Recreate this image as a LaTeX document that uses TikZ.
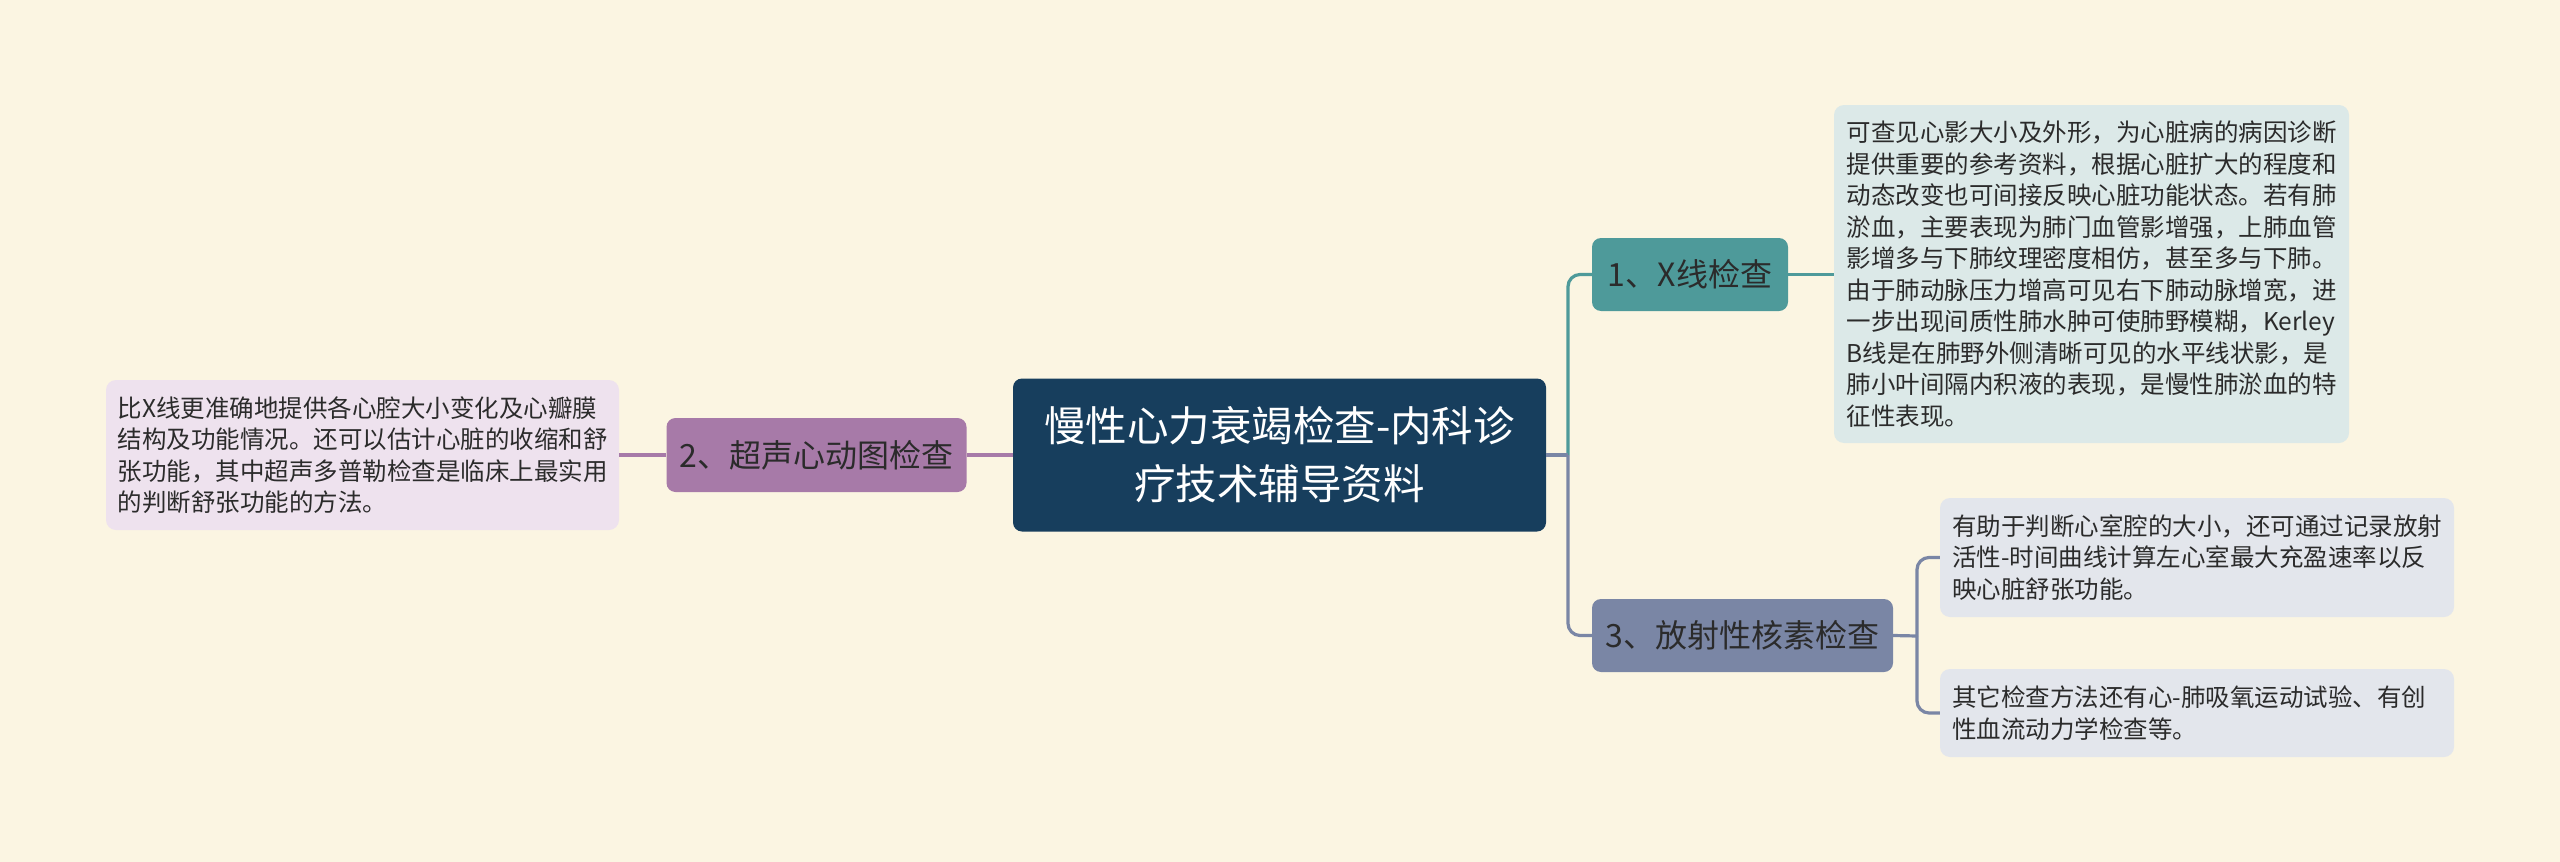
\documentclass[tikz,border=0pt]{standalone}
\usepackage{fontspec}
\setmainfont{Noto Sans CJK SC}
\definecolor{bg}{HTML}{FBF5E2}
\definecolor{rootc}{HTML}{173E5D}
\definecolor{tealc}{HTML}{4E9A9A}
\definecolor{purpc}{HTML}{A77AA8}
\definecolor{grayc}{HTML}{7A86A5}
\definecolor{leafA}{HTML}{DCE9E8}
\definecolor{leafB}{HTML}{EEE2EE}
\definecolor{leafC}{HTML}{E3E6EC}
\definecolor{txt}{HTML}{2B2B2B}
\begin{document}
\begin{tikzpicture}[x=1pt,y=-1pt,
  rootbox/.style={fill=rootc, rounded corners=9pt, inner sep=0pt, text=white,
    font=\fontsize{41.5}{58}\selectfont, align=center},
  topic/.style={rounded corners=9pt, inner sep=0pt, text=txt,
    font=\fontsize{32}{40}\selectfont},
  leafbox/.style={rounded corners=10pt, inner sep=0pt, text=txt,
    font=\fontsize{24.5}{31.5}\selectfont, align=left, text width=490pt},
  conn/.style={line width=3.2pt, rounded corners=12pt}
]
\fill[bg] (0,0) rectangle (2560,862);
\useasboundingbox (0,0) rectangle (2560,862);

\node[rootbox, minimum width=533pt, minimum height=153pt] (root) at (1279.5,455)
  {慢性心力衰竭检查-内科诊\\疗技术辅导资料};

\node[topic, fill=tealc, minimum width=196pt, minimum height=73pt] (n1) at (1690,274.5) {1、X线检查};
\node[topic, fill=purpc, minimum width=300pt, minimum height=74pt] (n2) at (816.5,455) {2、超声心动图检查};
\node[topic, fill=grayc, minimum width=301pt, minimum height=73pt] (n3) at (1742.5,635.5) {3、放射性核素检查};

\node[leafbox, fill=leafA, minimum width=515pt, minimum height=338pt] (l1) at (2091.5,274) {可查见心影大小及外形，为心脏病的病因诊断\\提供重要的参考资料，根据心脏扩大的程度和\\动态改变也可间接反映心脏功能状态。若有肺\\淤血，主要表现为肺门血管影增强，上肺血管\\影增多与下肺纹理密度相仿，甚至多与下肺。\\由于肺动脉压力增高可见右下肺动脉增宽，进\\一步出现间质性肺水肿可使肺野模糊，Kerley\\B线是在肺野外侧清晰可见的水平线状影，是\\肺小叶间隔内积液的表现，是慢性肺淤血的特\\征性表现。};

\node[leafbox, fill=leafB, minimum width=513pt, minimum height=150pt] (l2) at (362.5,455) {比X线更准确地提供各心腔大小变化及心瓣膜\\结构及功能情况。还可以估计心脏的收缩和舒\\张功能，其中超声多普勒检查是临床上最实用\\的判断舒张功能的方法。};

\node[leafbox, fill=leafC, minimum width=514pt, minimum height=119pt] (l3a) at (2197,557.5) {有助于判断心室腔的大小，还可通过记录放射\\活性-时间曲线计算左心室最大充盈速率以反\\映心脏舒张功能。};
\node[leafbox, fill=leafC, minimum width=514pt, minimum height=88pt] (l3b) at (2197,713) {其它检查方法还有心-肺吸氧运动试验、有创\\性血流动力学检查等。};

\coordinate (tr) at (1568,455);
\coordinate (br) at (1917,636);

\draw[conn, tealc] (tr) |- (n1.west);
\draw[conn, tealc] (n1.east) -- (l1.west |- n1.east);
\draw[conn, grayc] (tr) |- (n3.west);
\draw[conn, grayc] (root.east) -- (tr);
\draw[conn, grayc] (n3.east) -- (br);
\draw[conn, grayc] (br) |- (l3a.west);
\draw[conn, grayc] (br) |- (l3b.west);
\draw[conn, purpc] (root.west) -- (n2.east);
\draw[conn, purpc] (n2.west) -- (l2.east);
\end{tikzpicture}
\end{document}
